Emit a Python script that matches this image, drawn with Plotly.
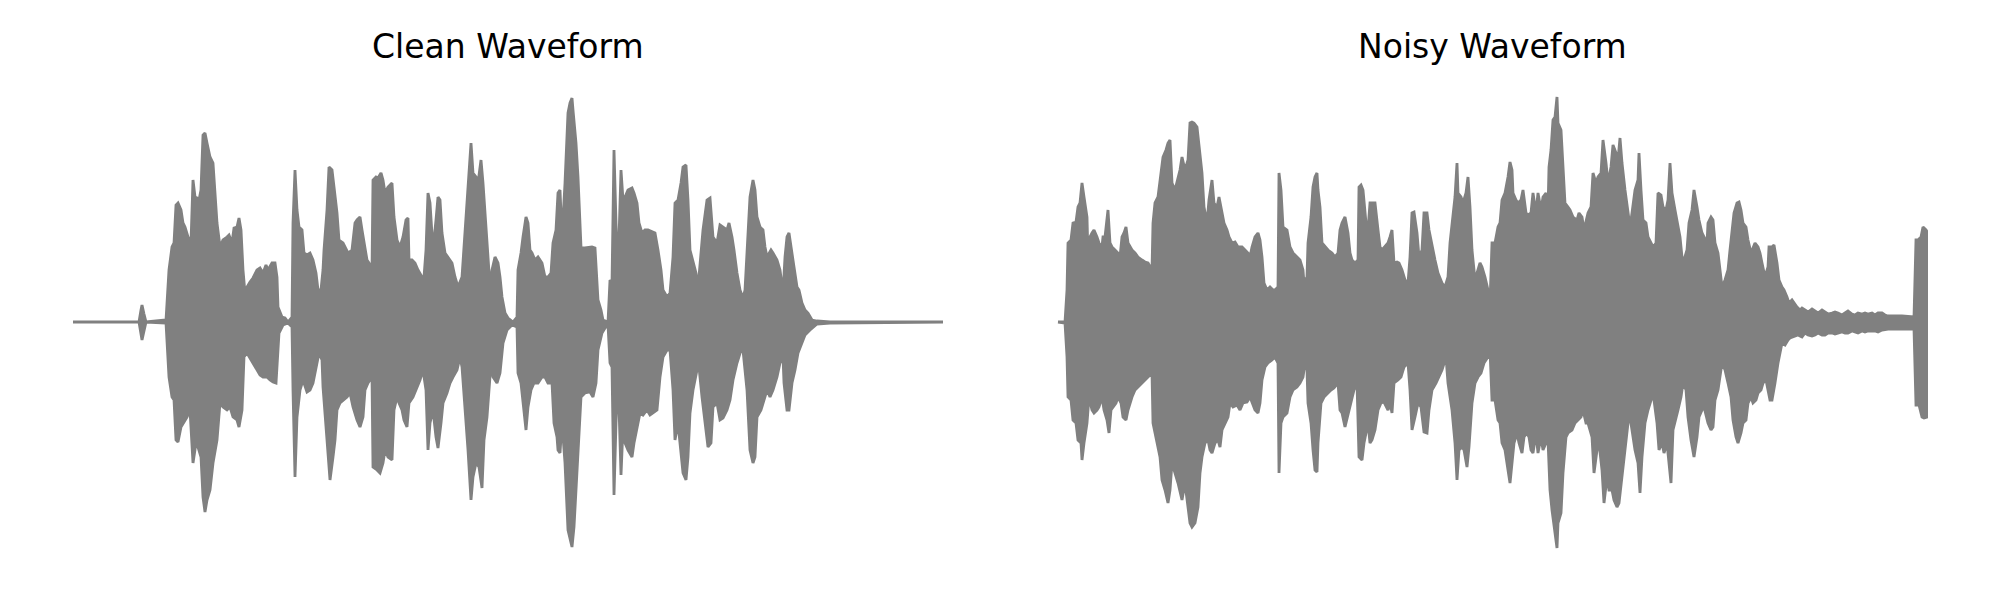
import plotly.graph_objects as go

# ---- Data: waveform envelopes as (frame index, amplitude) pairs ----
clean_top = [
    (0, 0), (66, 0), (68, 12), (69, 17), (71, 8), (73, 0), (93, 2),
    (94, 19), (96, 52), (99, 75), (101, 79), (103, 117), (105, 119), (108, 112), (110, 99), (112, 95), (115, 85),
    (118, 80), (119, 122), (120, 142), (122, 125), (124, 124), (126, 122), (128, 132), (130, 187), (132, 189), (134, 179),
    (137, 165), (140, 159), (142, 132), (144, 99), (147, 75), (150, 82), (154, 85), (156, 87), (159, 79), (161, 94),
    (164, 95), (166, 104), (168, 92), (170, 52), (172, 29), (174, 35), (177, 40), (180, 44), (184, 52), (187, 54),
    (190, 49), (193, 57), (195, 52), (199, 59), (202, 59), (204, 45), (205, 15), (209, 5), (212, 4), (215, 0),
    (219, 5), (220, 99), (222, 152), (224, 112), (226, 95), (229, 92), (231, 69), (234, 67), (237, 69), (240, 62),
    (243, 49), (245, 32), (248, 32), (250, 52), (251, 72), (254, 112), (256, 155), (259, 152), (261, 135), (264, 109),
    (266, 82), (270, 79), (272, 75), (275, 69), (279, 72), (282, 99), (284, 102), (287, 105), (289, 92), (291, 79),
    (294, 62), (296, 59), (299, 52), (300, 142), (303, 145), (305, 144), (308, 149), (310, 142),
    (312, 129), (315, 135), (319, 139), (321, 105), (324, 82), (327, 75), (330, 85), (333, 102), (335, 104), (336, 62),
    (339, 62), (342, 59), (345, 52), (349, 45), (351, 45), (353, 72), (355, 129), (357, 119), (360, 72), (363, 102),
    (365, 125), (367, 122), (369, 89), (372, 69), (375, 65), (379, 59), (382, 45), (385, 35), (389, 45), (392, 92),
    (395, 135), (398, 179), (400, 149), (403, 145), (405, 139), (408, 162), (410, 139), (413, 99), (415, 65), (417, 35),
    (419, 52), (422, 65), (425, 59), (427, 45), (429, 25), (432, 9), (435, 4), (440, 0), (444, 5), (445, 52),
    (448, 69), (450, 85), (453, 105), (455, 99), (457, 72), (459, 69), (462, 62), (465, 65), (469, 59), (472, 45),
    (475, 45), (478, 49), (480, 79), (483, 92), (485, 129), (487, 132), (489, 85), (492, 139), (495, 209), (497, 219),
    (499, 224), (500, 212), (503, 179), (505, 145), (508, 75), (512, 74), (516, 75), (519, 75), (522, 74), (524, 45),
    (525, 22), (528, 12), (530, 2), (535, 0),
    (537, 42), (539, 39), (541, 172), (543, 99), (545, 49), (548, 152), (550, 122), (552, 125), (555, 132), (559, 134),
    (561, 129), (564, 119), (566, 99), (569, 89), (572, 92), (575, 92), (579, 90), (582, 89), (585, 72), (588, 52),
    (590, 32), (594, 25), (597, 29), (600, 65), (602, 119), (605, 122), (608, 139), (610, 155), (613, 157), (615, 122),
    (617, 72), (620, 59), (623, 49), (625, 34), (628, 65), (630, 92), (634, 122), (637, 124), (640, 85), (644, 79),
    (647, 97), (650, 95), (654, 92), (656, 99), (659, 85), (661, 72), (664, 49), (667, 32), (670, 24), (672, 32),
    (674, 72), (677, 125), (680, 142), (682, 132), (684, 105), (687, 95), (690, 92), (692, 75), (694, 65), (698, 72),
    (700, 69), (704, 62), (707, 52), (710, 29), (712, 65), (714, 85), (716, 89), (719, 65), (721, 55), (724, 35),
    (726, 32), (729, 19), (732, 12), (735, 9), (739, 2), (744, 1), (757, 0), (870, 0)]

clean_bottom = [
    (0, 0), (66, 0), (68, -12), (69, -18), (71, -8), (73, 0), (93, -1),
    (94, -21), (96, -55), (99, -75), (101, -78), (103, -118), (105, -120), (108, -105), (110, -101), (114, -95), (117, -88),
    (119, -125), (120, -141), (123, -121), (125, -125), (128, -135), (130, -175), (132, -190), (134, -178), (137, -168), (140, -141),
    (144, -118), (147, -81), (150, -85), (154, -88), (157, -85), (160, -95), (164, -98), (166, -105), (169, -88), (171, -35),
    (174, -31), (177, -35), (180, -41), (184, -48), (187, -53), (190, -55), (194, -55), (197, -58), (200, -60), (203, -61),
    (204, -38), (206, -11), (210, -3), (215, -1), (219, -5), (220, -68), (222, -155), (224, -95), (227, -68), (230, -58),
    (234, -70), (237, -68), (240, -61), (244, -41), (246, -31), (249, -38), (250, -65), (254, -118), (257, -158), (260, -135),
    (262, -118), (264, -88), (267, -81), (270, -78), (274, -75), (277, -71), (280, -85), (284, -98), (287, -105), (290, -95),
    (292, -68), (295, -61), (299, -55), (300, -145), (304, -148), (307, -151), (310, -141),
    (312, -128), (315, -135), (319, -138), (321, -88), (324, -75), (326, -81), (329, -88), (331, -98), (334, -105), (336, -81),
    (340, -75), (344, -65), (347, -58), (350, -48), (353, -68), (355, -128), (357, -101), (360, -88), (363, -115), (365, -126),
    (368, -101), (370, -81), (374, -71), (377, -61), (380, -55), (384, -48), (387, -35), (389, -45), (392, -85), (395, -128),
    (398, -178), (400, -155), (403, -141), (406, -145), (409, -166), (411, -118), (414, -95), (416, -68), (418, -41), (420, -55),
    (424, -61), (427, -51), (430, -21), (434, -8), (439, -3), (444, -5), (445, -51), (448, -61), (450, -81), (453, -108),
    (455, -85), (458, -68), (461, -61), (465, -61), (469, -55), (472, -55), (475, -61), (479, -61), (481, -101), (484, -115),
    (485, -128), (487, -131), (489, -101), (492, -141), (495, -208), (497, -215), (499, -225), (501, -205), (503, -168), (505, -135),
    (508, -75), (512, -71), (517, -70), (520, -75), (523, -61), (525, -28), (529, -11), (532, -6), (535, -3),
    (537, -41), (539, -45), (541, -173), (543, -101), (545, -51), (548, -153), (550, -105), (552, -121), (555, -128), (559, -135),
    (561, -121), (564, -105), (567, -91), (570, -93), (574, -88), (577, -93), (580, -91), (584, -88), (587, -55), (590, -35),
    (594, -28), (597, -28), (600, -68), (602, -118), (605, -101), (608, -131), (610, -151), (613, -158), (615, -135), (617, -91),
    (620, -68), (624, -48), (626, -45), (629, -75), (632, -101), (635, -125), (638, -121), (640, -85), (644, -81), (647, -98),
    (650, -96), (654, -88), (657, -78), (660, -58), (664, -41), (668, -28), (670, -28), (674, -68), (677, -128), (680, -141),
    (682, -135), (684, -95), (688, -88), (691, -78), (694, -68), (697, -75), (700, -68), (704, -55), (707, -41), (710, -35),
    (711, -61), (714, -88), (716, -88), (719, -61), (722, -48), (725, -31), (729, -21), (732, -13), (737, -8), (740, -5),
    (744, -2), (757, -1), (870, 0)]

noisy_top = [
    (1, 0), (8, 0), (10, 32), (11, 79), (14, 82), (16, 99), (19, 100), (21, 115), (23, 119), (25, 139),
    (27, 125), (30, 105), (31, 65), (33, 85), (35, 89), (37, 92), (40, 85), (42, 79), (45, 75), (46, 85),
    (48, 85), (51, 112), (53, 79), (55, 75), (58, 72), (61, 69), (63, 65), (65, 85), (67, 89), (69, 95),
    (71, 79), (75, 72), (78, 69), (81, 65), (85, 62), (88, 60), (91, 59), (95, 52), (96, 99), (98, 119),
    (101, 125), (104, 152), (106, 165), (109, 172), (111, 179), (113, 182), (115, 139), (118, 132), (121, 145), (123, 152),
    (125, 165), (128, 152), (131, 162), (133, 199), (135, 200), (137, 199), (140, 195), (142, 175), (145, 149), (147, 115),
    (150, 99), (152, 122), (155, 142), (157, 119), (160, 115), (162, 125), (165, 109), (167, 99), (170, 92), (172, 85),
    (175, 79), (178, 80), (181, 75), (185, 75), (188, 72), (191, 69), (193, 65), (195, 75), (198, 85), (201, 89),
    (203, 82), (205, 65), (207, 39), (210, 32), (213, 35), (216, 32),
    (218, 32), (221, 35), (222, 149), (224, 132), (226, 95), (230, 92), (233, 75), (236, 69), (240, 65), (243, 62),
    (246, 52), (247, 39), (250, 45), (251, 79), (254, 105), (256, 135), (258, 145), (260, 149), (261, 132), (263, 115),
    (265, 79), (268, 75), (271, 72), (275, 69), (278, 65), (281, 69), (283, 92), (285, 99), (288, 105), (291, 89),
    (293, 69), (295, 62), (298, 59), (301, 62), (302, 135), (304, 137), (306, 132), (309, 99), (311, 92), (313, 119),
    (315, 119), (318, 119), (321, 92), (323, 75), (325, 72), (328, 75), (331, 79), (333, 85), (335, 92), (337, 59),
    (340, 60), (342, 59), (345, 52), (348, 42), (351, 39), (353, 65), (355, 109), (357, 110), (360, 89), (362, 65),
    (365, 72), (367, 109), (370, 109), (372, 92), (375, 75), (378, 62), (381, 49), (385, 39), (388, 35), (391, 45),
    (393, 79), (395, 99), (398, 125), (400, 159), (401, 129), (404, 125), (406, 119), (409, 129), (411, 145), (413, 115),
    (415, 72), (418, 42), (421, 52), (423, 59), (425, 55), (428, 45), (431, 32), (433, 19), (435, 79),
    (438, 79), (441, 95), (443, 99), (445, 122), (448, 129), (451, 145), (453, 160), (455, 152), (456, 129), (459, 122),
    (461, 119), (464, 122), (466, 132), (469, 109), (471, 107), (474, 109), (476, 129), (479, 109), (481, 129), (484, 112),
    (486, 125), (489, 129), (491, 112), (492, 155), (494, 172), (496, 202), (498, 205), (500, 225), (501, 199), (504, 192),
    (506, 149), (508, 119), (511, 115), (513, 112), (516, 105), (520, 102), (522, 109), (525, 105), (527, 92), (529, 102),
    (531, 109), (534, 115), (536, 149), (539, 139), (541, 145), (544, 149), (546, 182), (549, 159), (551, 139), (554, 155),
    (556, 177), (559, 169), (561, 162), (563, 184), (565, 159), (568, 132), (571, 109), (573, 95), (575, 109), (578, 132),
    (581, 142), (582, 169), (584, 132), (586, 102), (589, 99), (591, 85), (594, 79), (596, 75), (599, 79), (601, 129),
    (604, 127), (606, 115), (609, 112), (611, 122), (613, 159), (615, 129), (618, 112), (621, 95), (623, 85), (625, 65),
    (627, 62), (630, 72), (632, 99), (635, 112), (637, 132), (640, 115), (642, 102), (645, 89), (647, 85), (650, 79),
    (651, 99), (654, 105), (656, 102),
    (658, 79), (661, 69), (663, 52), (665, 35), (668, 42), (671, 52), (673, 72), (675, 92), (677, 109), (680, 119),
    (682, 120), (684, 112), (686, 99), (689, 95), (691, 82), (694, 69), (696, 75), (698, 79), (701, 75), (703, 69),
    (705, 59), (708, 45), (711, 55), (712, 75), (715, 75), (717, 77), (720, 59), (722, 42), (725, 35), (727, 32),
    (730, 25), (732, 19), (735, 22), (737, 19), (740, 15), (743, 12), (745, 14), (748, 12), (751, 10), (755, 13),
    (758, 11), (761, 9), (765, 12), (768, 10), (771, 8), (775, 9), (778, 10), (781, 9), (785, 7), (788, 9),
    (791, 11), (795, 8), (798, 7), (801, 9), (805, 8), (808, 9), (811, 8), (815, 9), (818, 7), (821, 9),
    (825, 9), (828, 7), (831, 6), (845, 6), (857, 5), (859, 82), (861, 82), (864, 85), (866, 95), (869, 92),
    (871, 89)]

noisy_bottom = [
    (1, 0), (8, -1), (10, -35), (11, -75), (14, -78), (16, -98), (19, -101), (21, -118), (24, -121), (25, -138),
    (27, -121), (30, -101), (32, -75), (35, -88), (37, -91), (40, -88), (42, -85), (45, -75), (47, -88), (50, -98),
    (52, -111), (54, -88), (56, -85), (59, -81), (61, -75), (64, -81), (66, -95), (69, -98), (71, -88), (75, -75),
    (78, -68), (81, -65), (85, -61), (88, -58), (91, -55), (95, -51), (96, -101), (100, -121), (103, -135), (105, -158),
    (108, -168), (111, -181), (113, -168), (115, -141), (118, -151), (121, -161), (123, -168), (125, -178), (128, -161), (131, -185),
    (133, -201), (135, -205), (138, -201), (141, -185), (143, -151), (145, -135), (148, -121), (151, -118), (153, -128), (155, -131),
    (158, -121), (161, -118), (163, -125), (165, -108), (168, -101), (171, -95), (173, -81), (176, -85), (180, -83), (183, -88),
    (186, -81), (190, -80), (193, -75), (195, -81), (198, -88), (201, -91), (203, -81), (205, -58), (208, -45), (211, -41),
    (215, -38),
    (218, -35), (221, -41), (222, -151), (224, -101), (226, -95), (230, -91), (233, -75), (236, -68), (240, -65), (243, -61),
    (246, -55), (248, -41), (250, -48), (251, -81), (254, -101), (256, -128), (258, -148), (260, -150), (261, -121), (264, -81),
    (267, -75), (271, -71), (274, -68), (277, -66), (281, -61), (283, -88), (285, -91), (288, -105), (291, -95), (294, -81),
    (297, -68), (300, -61), (302, -135), (305, -138), (307, -121), (311, -101), (313, -121), (315, -118), (318, -108), (321, -88),
    (324, -81), (327, -80), (331, -88), (333, -81), (335, -91), (337, -61), (341, -58), (344, -55), (347, -45), (351, -41),
    (353, -68), (355, -108), (358, -95), (361, -81), (364, -85), (367, -110), (370, -111), (372, -88), (375, -68), (379, -61),
    (382, -55), (385, -48), (389, -35), (391, -61), (395, -88), (398, -121), (400, -158), (402, -128), (405, -125), (407, -128),
    (410, -145), (412, -125), (415, -81), (418, -61), (421, -55), (424, -51), (427, -41), (431, -35), (433, -28), (435, -78),
    (438, -78), (441, -98), (443, -101), (445, -121), (448, -128), (451, -148), (453, -161), (455, -141), (457, -121), (460, -111),
    (462, -121), (465, -131), (467, -115), (470, -111), (472, -115), (474, -128), (476, -131), (479, -111), (481, -131), (484, -115),
    (486, -128), (489, -121), (491, -118), (493, -168), (495, -188), (497, -205), (500, -226), (501, -201), (504, -191), (506, -151),
    (509, -115), (511, -111), (515, -108), (518, -101), (521, -98), (524, -95), (526, -88), (529, -101), (531, -101), (535, -115),
    (537, -151), (540, -128), (542, -121), (545, -148), (547, -181), (550, -155), (552, -168), (555, -168), (557, -178), (560, -185),
    (562, -181), (565, -155), (567, -135), (571, -101), (573, -95), (575, -108), (578, -128), (581, -141), (583, -171), (585, -135),
    (588, -101), (591, -88), (595, -75), (597, -78), (600, -101), (602, -128), (605, -121), (607, -131), (610, -121), (612, -141),
    (614, -161), (616, -108), (619, -95), (621, -88), (624, -75), (626, -61), (629, -68), (631, -95), (634, -118), (637, -135),
    (640, -115), (642, -95), (645, -88), (647, -85), (651, -101), (654, -108), (656, -105),
    (658, -78), (661, -68), (663, -55), (665, -41), (668, -48), (671, -61), (674, -75), (676, -98), (679, -115), (681, -121),
    (684, -111), (686, -101), (689, -98), (691, -81), (694, -75), (696, -81), (699, -78), (701, -71), (704, -68), (706, -61),
    (709, -58), (711, -68), (713, -78), (715, -78), (718, -61), (721, -41), (723, -31), (725, -21), (728, -23), (731, -18),
    (733, -16), (735, -15), (738, -14), (741, -13), (745, -15), (748, -11), (751, -13), (755, -14), (758, -13), (761, -11),
    (765, -13), (768, -13), (771, -11), (775, -11), (778, -12), (781, -11), (785, -10), (788, -11), (791, -11), (795, -9),
    (798, -10), (801, -11), (805, -9), (808, -10), (811, -9), (815, -9), (818, -9), (821, -10), (825, -8), (831, -7),
    (845, -7), (857, -7), (859, -83), (862, -83), (865, -95), (867, -96), (870, -95), (871, -91)]

titles = ["Clean Waveform", "Noisy Waveform"]
GRAY = "#808080"

fig = go.Figure()


def wave_trace(top, bottom, xa, ya):
    pts = list(top) + list(bottom)[::-1]
    return go.Scatter(
        x=[p[0] for p in pts], y=[p[1] for p in pts],
        mode="lines", fill="toself", fillcolor=GRAY,
        line=dict(color=GRAY, width=2.8),
        xaxis=xa, yaxis=ya, hoverinfo="skip", showlegend=False)


fig.add_trace(wave_trace(clean_top, clean_bottom, "x", "y"))
fig.add_trace(wave_trace(noisy_top, noisy_bottom, "x2", "y2"))

# The page body has an 8px margin; size the figure so it fills the 2000x600 window.
OFF = 8
W, H = 2000 - 2 * OFF, 600 - 2 * OFF
top_m = 80 - OFF
bot_m = H - (565 - OFF)
left_dom = [(73 - OFF) / W, (943 - OFF) / W]
right_dom = [(1057 - OFF) / W, (1928 - OFF) / W]
yr = [-243, 242]

fig.update_layout(
    width=W, height=H,
    margin=dict(l=0, r=0, t=top_m, b=bot_m),
    paper_bgcolor="white", plot_bgcolor="white",
    xaxis=dict(domain=left_dom, range=[0, 870], visible=False),
    yaxis=dict(domain=[0, 1], range=yr, visible=False),
    xaxis2=dict(domain=right_dom, range=[0, 871], visible=False, anchor="y2"),
    yaxis2=dict(domain=[0, 1], range=yr, visible=False, anchor="x2"),
)

plot_h = H - top_m - bot_m
title_y_page = 46
for dom, t in zip([left_dom, right_dom], titles):
    fig.add_annotation(
        text=t, xref="paper", yref="paper",
        x=(dom[0] + dom[1]) / 2, y=1 + (80 - title_y_page) / plot_h,
        xanchor="center", yanchor="middle", showarrow=False,
        font=dict(family="DejaVu Sans", size=33, color="black"))

fig.write_html("out.html")
